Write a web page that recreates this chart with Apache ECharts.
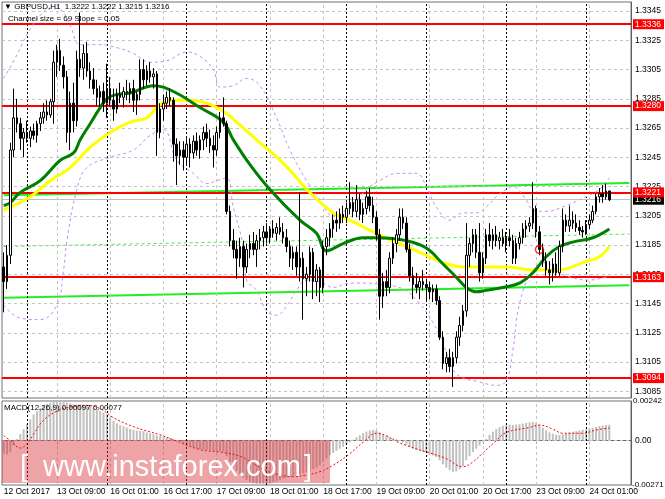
<!DOCTYPE html>
<html><head><meta charset="utf-8">
<script src="https://cdn.jsdelivr.net/npm/echarts@6/dist/echarts.min.js"></script>
<style>html,body{margin:0;padding:0;background:#fff}#c{width:665px;height:499px}</style>
</head><body><div id="c"></div>
<script>
// ---------- data ----------
// candles: [open, close, low, high], H1 bars from 12 Oct 2017 17:00
const candles = [
[1.3170,1.3160,1.3139,1.3180],[1.3160,1.3178,1.3155,1.3185],[1.3178,1.3250,1.3172,1.3255],[1.3250,1.3272,1.3245,1.3292],
[1.3272,1.3268,1.3262,1.3285],[1.3268,1.3258,1.3250,1.3272],[1.3258,1.3262,1.3245,1.3265],[1.3262,1.3258,1.3255,1.3270],
[1.3258,1.3263,1.3252,1.3266],[1.3263,1.3260,1.3257,1.3268],[1.3260,1.3268,1.3255,1.3270],[1.3268,1.3272,1.3263,1.3276],
[1.3272,1.3276,1.3268,1.3282],[1.3276,1.3274,1.3270,1.3284],[1.3274,1.3283,1.3272,1.3285],[1.3283,1.3310,1.3268,1.3318],
[1.3310,1.3318,1.3300,1.3322],[1.3318,1.3308,1.3304,1.3326],[1.3308,1.3300,1.3292,1.3314],[1.3300,1.3262,1.3255,1.3304],
[1.3262,1.3282,1.3250,1.3290],[1.3282,1.3270,1.3262,1.3296],[1.3270,1.3312,1.3266,1.3318],[1.3312,1.3306,1.3300,1.3344],
[1.3306,1.3316,1.3298,1.3322],[1.3316,1.3304,1.3300,1.3324],[1.3304,1.3298,1.3292,1.3310],[1.3298,1.3292,1.3288,1.3306],
[1.3292,1.3286,1.3280,1.3298],[1.3286,1.3290,1.3280,1.3294],[1.3290,1.3282,1.3276,1.3296],[1.3282,1.3292,1.3272,1.3309],
[1.3292,1.3284,1.3280,1.3300],[1.3284,1.3278,1.3270,1.3292],[1.3278,1.3288,1.3275,1.3292],[1.3288,1.3286,1.3282,1.3296],
[1.3286,1.3290,1.3279,1.3293],[1.3290,1.3289,1.3284,1.3298],[1.3289,1.3292,1.3282,1.3296],[1.3292,1.3284,1.3276,1.3298],
[1.3284,1.3288,1.3274,1.3290],[1.3288,1.3305,1.3284,1.3312],[1.3305,1.3298,1.3292,1.3312],[1.3298,1.3304,1.3294,1.3308],
[1.3304,1.3300,1.3296,1.3310],[1.3300,1.3302,1.3292,1.3306],[1.3302,1.3262,1.3246,1.3304],[1.3262,1.3278,1.3258,1.3282],
[1.3278,1.3282,1.3270,1.3288],[1.3282,1.3286,1.3278,1.3290],[1.3286,1.3284,1.3280,1.3292],[1.3284,1.3254,1.3242,1.3286],
[1.3254,1.3246,1.3226,1.3258],[1.3246,1.3250,1.3240,1.3256],[1.3250,1.3245,1.3236,1.3256],[1.3245,1.3254,1.3240,1.3258],
[1.3254,1.3248,1.3238,1.3258],[1.3248,1.3256,1.3244,1.3260],[1.3256,1.3250,1.3246,1.3262],[1.3250,1.3257,1.3244,1.3260],
[1.3257,1.3262,1.3250,1.3266],[1.3262,1.3258,1.3252,1.3268],[1.3258,1.3253,1.3248,1.3264],[1.3253,1.3250,1.3238,1.3260],
[1.3250,1.3262,1.3246,1.3266],[1.3262,1.3272,1.3258,1.3276],[1.3272,1.3268,1.3266,1.3286],[1.3268,1.3208,1.3206,1.3270],
[1.3208,1.3188,1.3184,1.3212],[1.3188,1.3182,1.3176,1.3196],[1.3182,1.3176,1.3162,1.3188],[1.3176,1.3184,1.3170,1.3190],
[1.3184,1.3170,1.3156,1.3188],[1.3170,1.3182,1.3166,1.3186],[1.3182,1.3186,1.3176,1.3192],[1.3186,1.3182,1.3178,1.3194],
[1.3182,1.3188,1.3170,1.3192],[1.3188,1.3190,1.3182,1.3196],[1.3190,1.3194,1.3184,1.3198],[1.3194,1.3190,1.3186,1.3200],
[1.3190,1.3196,1.3186,1.3198],[1.3196,1.3193,1.3190,1.3202],[1.3193,1.3197,1.3188,1.3200],[1.3197,1.3194,1.3192,1.3204],
[1.3194,1.3190,1.3186,1.3200],[1.3190,1.3184,1.3180,1.3196],[1.3184,1.3176,1.3170,1.3188],[1.3176,1.3180,1.3168,1.3184],
[1.3180,1.3170,1.3164,1.3184],[1.3170,1.3176,1.3160,1.3221],[1.3176,1.3162,1.3134,1.3180],[1.3162,1.3165,1.3150,1.3170],
[1.3165,1.3180,1.3160,1.3184],[1.3180,1.3160,1.3148,1.3183],[1.3160,1.3168,1.3150,1.3172],[1.3168,1.3156,1.3146,1.3170],
[1.3156,1.3184,1.3152,1.3188],[1.3184,1.3190,1.3178,1.3196],[1.3190,1.3196,1.3184,1.3200],[1.3196,1.3202,1.3190,1.3206],
[1.3202,1.3200,1.3194,1.3208],[1.3200,1.3206,1.3196,1.3210],[1.3206,1.3204,1.3200,1.3212],[1.3204,1.3210,1.3200,1.3214],
[1.3210,1.3214,1.3206,1.3228],[1.3214,1.3208,1.3204,1.3218],[1.3208,1.3216,1.3204,1.3226],[1.3216,1.3206,1.3202,1.3220],
[1.3206,1.3210,1.3200,1.3214],[1.3210,1.3218,1.3206,1.3222],[1.3218,1.3212,1.3208,1.3224],[1.3212,1.3204,1.3200,1.3218],
[1.3204,1.3192,1.3188,1.3208],[1.3192,1.3150,1.3134,1.3196],[1.3150,1.3160,1.3142,1.3166],[1.3160,1.3156,1.3150,1.3168],
[1.3156,1.3176,1.3152,1.3180],[1.3176,1.3186,1.3172,1.3190],[1.3186,1.3192,1.3180,1.3196],[1.3192,1.3204,1.3188,1.3210],
[1.3204,1.3200,1.3196,1.3210],[1.3200,1.3182,1.3180,1.3204],[1.3182,1.3164,1.3160,1.3186],[1.3164,1.3158,1.3148,1.3170],
[1.3158,1.3156,1.3152,1.3166],[1.3156,1.3160,1.3148,1.3163],[1.3160,1.3158,1.3154,1.3168],[1.3158,1.3156,1.3146,1.3162],
[1.3156,1.3153,1.3148,1.3160],[1.3153,1.3155,1.3146,1.3158],[1.3155,1.3147,1.3144,1.3158],[1.3147,1.3122,1.3120,1.3150],
[1.3122,1.3104,1.3100,1.3126],[1.3104,1.3108,1.3098,1.3112],[1.3108,1.3102,1.3098,1.3114],[1.3102,1.3108,1.3088,1.3112],
[1.3108,1.3122,1.3104,1.3126],[1.3122,1.3130,1.3116,1.3136],[1.3130,1.3140,1.3126,1.3144],[1.3140,1.3178,1.3136,1.3200],
[1.3178,1.3186,1.3170,1.3190],[1.3186,1.3192,1.3180,1.3196],[1.3192,1.3180,1.3176,1.3196],[1.3180,1.3166,1.3160,1.3200],
[1.3166,1.3176,1.3162,1.3180],[1.3176,1.3192,1.3172,1.3196],[1.3192,1.3188,1.3184,1.3200],[1.3188,1.3192,1.3182,1.3196],
[1.3192,1.3188,1.3184,1.3198],[1.3188,1.3190,1.3182,1.3194],[1.3190,1.3186,1.3184,1.3196],[1.3186,1.3190,1.3180,1.3194],
[1.3190,1.3188,1.3184,1.3196],[1.3188,1.3176,1.3172,1.3192],[1.3176,1.3186,1.3172,1.3190],[1.3186,1.3190,1.3182,1.3194],
[1.3190,1.3196,1.3186,1.3200],[1.3196,1.3198,1.3190,1.3202],[1.3198,1.3200,1.3194,1.3204],[1.3200,1.3210,1.3196,1.3228],
[1.3210,1.3194,1.3190,1.3212],[1.3194,1.3182,1.3178,1.3198],[1.3182,1.3174,1.3170,1.3186],[1.3174,1.3168,1.3164,1.3180],
[1.3168,1.3166,1.3158,1.3174],[1.3166,1.3172,1.3160,1.3176],[1.3172,1.3166,1.3164,1.3180],[1.3166,1.3184,1.3164,1.3188],
[1.3184,1.3202,1.3180,1.3210],[1.3202,1.3198,1.3194,1.3206],[1.3198,1.3202,1.3194,1.3212],[1.3202,1.3200,1.3196,1.3208],
[1.3200,1.3197,1.3194,1.3206],[1.3197,1.3195,1.3192,1.3202],[1.3195,1.3194,1.3190,1.3198],[1.3194,1.3199,1.3192,1.3202],
[1.3199,1.3202,1.3196,1.3206],[1.3202,1.3208,1.3200,1.3212],[1.3208,1.3218,1.3206,1.3220],[1.3218,1.3220,1.3214,1.3224],
[1.3220,1.3218,1.3214,1.3226],[1.3218,1.3222,1.3216,1.3227],[1.3222,1.3216,1.3215,1.3222]
];
const barSlots = 189; // chart leaves empty room after the last bar
// moving averages & bands: [bar index, price]
const maGreen = [[0,1.3212],[2,1.3214],[5,1.3221],[11,1.3229],[17,1.3243],[21,1.3248],[23,1.3257],[26,1.3268],[29,1.3279],[31,1.3285],[34,1.3288],[38,1.3289],[45,1.3294],[51,1.3290],[59,1.3279],[66,1.3269],[69,1.3257],[74,1.3240],[80,1.3223],[89,1.3202],[94,1.3193],[97,1.3181],[102,1.3186],[108,1.3190],[113,1.3190],[121,1.3188],[127,1.3183],[132,1.3172],[136,1.3163],[139,1.3156],[142,1.3153],[145,1.3154],[150,1.3156],[155,1.3159],[159,1.3166],[163,1.3177],[167,1.3184],[171,1.3187],[177,1.3190],[182,1.3196]];
const maYellow = [[0,1.3209],[2,1.3211],[8,1.3218],[14,1.3229],[20,1.3238],[26,1.3252],[32,1.3262],[38,1.3269],[43,1.3272],[46,1.3279],[50,1.3284],[55,1.3284],[61,1.3282],[67,1.3275],[70,1.3269],[76,1.3257],[84,1.3241],[92,1.3221],[99,1.3207],[104,1.3202],[112,1.3193],[120,1.3185],[127,1.3178],[132,1.3173],[138,1.3170],[142,1.3170],[151,1.3170],[159,1.3168],[167,1.3168],[174,1.3173],[179,1.3177],[182,1.3184]];
const bandUpper = [[0,1.3299],[4,1.3315],[7,1.3329],[11,1.3342],[14,1.3347],[17,1.3346],[20,1.3335],[23,1.3322],[29,1.3322],[34,1.3320],[39,1.3316],[44,1.3310],[49,1.3311],[55,1.3317],[59,1.3314],[63,1.3305],[65,1.3293],[69,1.3294],[73,1.3299],[77,1.3294],[82,1.3272],[86,1.3250],[91,1.3229],[95,1.3216],[99,1.3205],[104,1.3211],[109,1.3223],[113,1.3229],[118,1.3234],[124,1.3234],[127,1.3225],[130,1.3211],[134,1.3202],[138,1.3207],[142,1.3207],[145,1.3211],[148,1.3218],[151,1.3223],[153,1.3225],[157,1.3216],[159,1.3209],[163,1.3208],[169,1.3212],[174,1.3217],[179,1.3223],[182,1.3231]];
const bandLower = [[0,1.3144],[5,1.3135],[11,1.3134],[16,1.3144],[18,1.3168],[19,1.3188],[22,1.3223],[25,1.3238],[32,1.3245],[39,1.3250],[44,1.3260],[48,1.3264],[52,1.3243],[57,1.3234],[61,1.3227],[64,1.3229],[67,1.3231],[69,1.3211],[72,1.3184],[73,1.3161],[76,1.3154],[79,1.3140],[82,1.3137],[85,1.3143],[88,1.3154],[91,1.3161],[95,1.3160],[99,1.3156],[104,1.3159],[109,1.3159],[113,1.3158],[120,1.3155],[125,1.3145],[129,1.3132],[132,1.3118],[135,1.3100],[138,1.3094],[142,1.3092],[148,1.3089],[151,1.3092],[153,1.3113],[155,1.3145],[159,1.3168],[163,1.3173],[167,1.3166],[172,1.3162],[176,1.3161],[182,1.3164]];
// regression channel (Channel size = 69, Slope = 0.05)
const channelUpper = [[0,1.32190],[188,1.32275]];
const channelMiddle = [[0,1.31840],[188,1.31925]];
const channelLower = [[0,1.31490],[188,1.31575]];
const levels = [1.3336,1.3280,1.3221,1.3163,1.3094];
const bidPrice = 1.3216;
const tradeMark = [[161,1.3182]];
const priceTicks = [1.3085,1.3105,1.3125,1.3145,1.3165,1.3185,1.3205,1.3225,1.3245,1.3265,1.3285,1.3305,1.3325,1.3345];
const timeTickIndex = [0,16,32,48,64,80,96,112,128,144,160,176];
const timeTickLabels = ['12 Oct 2017','13 Oct 09:00','16 Oct 01:00','16 Oct 17:00','17 Oct 09:00','18 Oct 01:00','18 Oct 17:00','19 Oct 09:00','20 Oct 01:00','20 Oct 17:00','23 Oct 09:00','24 Oct 01:00'];
const daySeparators = [7,31,55,79,103,127,151,175];
// MACD(12,26,9)
const macdMain = [
-0.00080,-0.00085,-0.00070,-0.00030,0.00010,0.00040,0.00070,0.00100,0.00130,0.00160,0.00180,0.00200,0.00215,0.00225,0.00232,0.00238,
0.00242,0.00242,0.00240,0.00232,0.00228,0.00222,0.00220,0.00222,0.00220,0.00215,0.00208,0.00200,0.00190,0.00180,0.00170,0.00160,
0.00145,0.00120,0.00105,0.00095,0.00088,0.00080,0.00072,0.00066,0.00062,0.00060,0.00058,0.00050,0.00045,0.00040,0.00032,0.00028,
0.00025,0.00020,0.00016,0.00010,0.00005,-0.00005,-0.00015,-0.00025,-0.00035,-0.00042,-0.00048,-0.00052,-0.00055,-0.00058,-0.00060,-0.00062,
-0.00064,-0.00066,-0.00068,-0.00095,-0.00130,-0.00160,-0.00185,-0.00205,-0.00225,-0.00240,-0.00252,-0.00260,-0.00266,-0.00270,-0.00271,-0.00268,
-0.00262,-0.00255,-0.00248,-0.00240,-0.00232,-0.00225,-0.00220,-0.00215,-0.00210,-0.00205,-0.00200,-0.00195,-0.00185,-0.00175,-0.00165,-0.00150,
-0.00130,-0.00110,-0.00090,-0.00075,-0.00062,-0.00050,-0.00038,-0.00025,-0.00010,0.00005,0.00020,0.00032,0.00045,0.00055,0.00062,0.00066,
0.00064,0.00050,0.00038,0.00028,0.00020,0.00014,0.00008,0.00002,-0.00010,-0.00025,-0.00040,-0.00050,-0.00058,-0.00064,-0.00070,-0.00076,
-0.00082,-0.00090,-0.00100,-0.00120,-0.00145,-0.00165,-0.00180,-0.00190,-0.00188,-0.00175,-0.00155,-0.00120,-0.00095,-0.00070,-0.00050,-0.00030,
-0.00010,0.00010,0.00035,0.00055,0.00070,0.00082,0.00090,0.00095,0.00098,0.00096,0.00098,0.00100,0.00104,0.00108,0.00112,0.00115,
0.00110,0.00095,0.00078,0.00062,0.00050,0.00042,0.00036,0.00035,0.00040,0.00045,0.00050,0.00054,0.00058,0.00062,0.00066,0.00070,
0.00074,0.00078,0.00084,0.00088,0.00092,0.00095,0.00097
];
const macdSignal = [[0,0.00030],[2,0.00000],[5,-0.00045],[7,-0.00020],[9,0.00040],[12,0.00125],[16,0.00180],[20,0.00205],[25,0.00215],[29,0.00195],[33,0.00140],[39,0.00085],[47,0.00035],[51,0.00005],[59,-0.00055],[65,-0.00070],[71,-0.00095],[75,-0.00140],[79,-0.00185],[83,-0.00210],[87,-0.00220],[91,-0.00210],[95,-0.00190],[99,-0.00150],[104,-0.00080],[108,-0.00010],[112,0.00045],[115,0.00030],[118,-0.00005],[124,-0.00050],[128,-0.00075],[133,-0.00110],[138,-0.00160],[141,-0.00130],[144,-0.00075],[148,0.00000],[151,0.00050],[158,0.00080],[161,0.00095],[165,0.00070],[168,0.00045],[174,0.00045],[178,0.00065],[182,0.00077]];
const macdMax = 0.00242, macdMin = -0.00271;

// ---------- chart ----------
const FONT = 'Liberation Sans';
const cats = Array.from({length: barSlots}, (_, i) => String(i));
const tickSet = new Set(timeTickIndex);
const labelOf = {}; timeTickIndex.forEach((t, k) => labelOf[t] = timeTickLabels[k]);

const vGrid = timeTickIndex.filter(i => i > 0).map(i => ({xAxis: i, label: {show: false}, lineStyle: {type: [3, 3], color: '#c4c4c4', width: 1}}));
const vDays = daySeparators.map(i => ({xAxis: i, label: {show: false}, lineStyle: {type: [2, 2], color: '#000', width: 1}}));
const hidden = {color: 'rgba(0,0,0,0)', width: 1, type: 'solid'};

const chart = echarts.init(document.getElementById('c'), null, {renderer: 'canvas'});
chart.setOption({
  animation: false,
  backgroundColor: '#fff',
  textStyle: {fontFamily: FONT},
  grid: [
    {left: 2, right: 34, top: 2, height: 396, show: true, borderColor: '#707070', borderWidth: 1},
    {left: 2, right: 34, top: 401, height: 84, show: true, borderColor: '#707070', borderWidth: 1}
  ],
  xAxis: [
    {type: 'category', gridIndex: 0, data: cats, boundaryGap: true, axisLine: {show: false}, axisTick: {show: false}, axisLabel: {show: false}, splitLine: {show: false}},
    {type: 'category', gridIndex: 1, data: cats, boundaryGap: true,
     axisLine: {show: true, lineStyle: {color: '#606060'}},
     axisTick: {show: true, alignWithLabel: true, interval: (i) => tickSet.has(i), length: 3, lineStyle: {color: '#606060'}},
     axisLabel: {interval: (i) => tickSet.has(i), formatter: (v) => labelOf[Number(v)] || '', align: 'left', fontSize: 8.5, color: '#000', margin: 2, fontFamily: FONT},
     splitLine: {show: false}}
  ],
  yAxis: [
    {type: 'value', gridIndex: 0, position: 'right', min: 1.30804, max: 1.33512, axisLine: {show: true, lineStyle: {color: '#606060'}}, axisTick: {show: false}, axisLabel: {show: false}, splitLine: {show: false}},
    {type: 'value', gridIndex: 1, position: 'right', min: macdMin, max: macdMax, axisLine: {show: true, lineStyle: {color: '#606060'}}, axisTick: {show: false}, axisLabel: {show: false}, splitLine: {show: false}}
  ],
  series: [
    { // price grid lines + tick labels + vertical lines
      type: 'line', xAxisIndex: 0, yAxisIndex: 0, data: [], z: 1, silent: true,
      markLine: {silent: true, symbol: ['none', 'none'], precision: 5, animation: false,
        lineStyle: {type: [3, 3], color: '#c4c4c4', width: 1},
        label: {position: 'end', distance: 4, formatter: '{b}', color: '#000', fontSize: 8.5, fontFamily: FONT},
        data: priceTicks.map(v => ({yAxis: v, name: v.toFixed(4)})).concat(vGrid, vDays)}
    },
    { // bid line
      type: 'line', xAxisIndex: 0, yAxisIndex: 0, data: [], z: 2, silent: true,
      markLine: {silent: true, symbol: ['none', 'none'], precision: 5, animation: false,
        lineStyle: {type: 'solid', color: '#c0c0c0', width: 1},
        label: {position: 'end', distance: 2, formatter: '{b}', color: '#fff', backgroundColor: '#000', padding: [1, 3, 0, 2], fontSize: 8.5, fontFamily: FONT},
        data: [{yAxis: bidPrice, name: bidPrice.toFixed(4)}]}
    },
    { // horizontal levels
      type: 'line', xAxisIndex: 0, yAxisIndex: 0, data: [], z: 3, silent: true,
      markLine: {silent: true, symbol: ['none', 'none'], precision: 5, animation: false,
        lineStyle: {type: 'solid', color: '#ff0000', width: 2},
        label: {position: 'end', distance: 2, formatter: '{b}', color: '#fff', backgroundColor: '#ff0000', padding: [1, 3, 0, 2], fontSize: 8.5, fontFamily: FONT},
        data: levels.map(v => ({yAxis: v, name: v.toFixed(4)}))}
    },
    {type: 'line', name: 'chUp', xAxisIndex: 0, yAxisIndex: 0, data: channelUpper, symbol: 'none', z: 4, lineStyle: {color: '#22ee22', width: 2}},
    {type: 'line', name: 'chMid', xAxisIndex: 0, yAxisIndex: 0, data: channelMiddle, symbol: 'none', z: 4, lineStyle: {color: '#44ee44', width: 1, type: [3, 3]}},
    {type: 'line', name: 'chLow', xAxisIndex: 0, yAxisIndex: 0, data: channelLower, symbol: 'none', z: 4, lineStyle: {color: '#22ee22', width: 2}},
    {type: 'line', name: 'bbUp', xAxisIndex: 0, yAxisIndex: 0, data: bandUpper, symbol: 'none', smooth: 0.4, z: 5, lineStyle: {color: '#c98cf0', width: 1, type: [3, 3]}},
    {type: 'line', name: 'bbLow', xAxisIndex: 0, yAxisIndex: 0, data: bandLower, symbol: 'none', smooth: 0.4, z: 5, lineStyle: {color: '#c98cf0', width: 1, type: [3, 3]}},
    {type: 'line', name: 'maY', xAxisIndex: 0, yAxisIndex: 0, data: maYellow, symbol: 'none', smooth: 0.4, z: 6, lineStyle: {color: '#ffff00', width: 3}},
    {type: 'line', name: 'maG', xAxisIndex: 0, yAxisIndex: 0, data: maGreen, symbol: 'none', smooth: 0.4, z: 7, lineStyle: {color: '#008000', width: 3}},
    {type: 'candlestick', xAxisIndex: 0, yAxisIndex: 0, data: candles, barWidth: 2, z: 8,
     itemStyle: {color: '#ffffff', color0: '#000000', borderColor: '#000000', borderColor0: '#000000', borderWidth: 1}},
    {type: 'scatter', xAxisIndex: 0, yAxisIndex: 0, data: tradeMark, symbol: 'circle', symbolSize: 8, z: 9,
     itemStyle: {color: 'rgba(255,255,255,0)', borderColor: '#ff0000', borderWidth: 1.5}},
    { // MACD panel lines and labels
      type: 'line', xAxisIndex: 1, yAxisIndex: 1, data: [], z: 1, silent: true,
      markLine: {silent: true, symbol: ['none', 'none'], precision: 6, animation: false,
        lineStyle: {type: [3, 3], color: '#c4c4c4', width: 1},
        label: {position: 'end', distance: 4, formatter: '{b}', color: '#000', fontSize: 8.5, fontFamily: FONT},
        data: [
          {yAxis: 0, name: '0.00'},
          {yAxis: macdMax, name: macdMax.toFixed(5), lineStyle: hidden, label: {distance: 2, fontSize: 8}},
          {yAxis: macdMin, name: macdMin.toFixed(5), lineStyle: hidden, label: {distance: 1, fontSize: 8}}
        ].concat(vGrid, vDays)}
    },
    {type: 'bar', xAxisIndex: 1, yAxisIndex: 1, data: macdMain, barWidth: 2, z: 3, itemStyle: {color: '#c0c0c0'}},
    {type: 'line', xAxisIndex: 1, yAxisIndex: 1, data: macdSignal, symbol: 'none', smooth: 0.4, z: 4, lineStyle: {color: '#ff0000', width: 1, type: [2, 2]}}
  ],
  graphic: [
    {type: 'text', left: 4, top: 3, z: 50, style: {text: '\u25BC GBPUSD,H1  1.3222 1.3222 1.3215 1.3216', font: '8px "Liberation Sans"', fill: '#000'}},
    {type: 'text', left: 8, top: 15, z: 50, style: {text: 'Channel size = 69 Slope = 0.05', font: '8px "Liberation Sans"', fill: '#000'}},
    {type: 'text', left: 4, top: 404, z: 50, style: {text: 'MACD(12,26,9) 0.00097 0.00077', font: '8px "Liberation Sans"', fill: '#000'}},
    {type: 'rect', z: 60, shape: {x: 2, y: 440, width: 328, height: 43}, style: {fill: 'rgba(215,35,45,0.42)'}},
    {type: 'text', z: 61, x: 20, y: 468, style: {text: '[', font: '29px "Liberation Sans"', fill: '#ffffff', textVerticalAlign: 'middle'}},
    {type: 'text', z: 61, x: 43, y: 468, style: {text: 'www.instaforex.com', font: '29px "Liberation Sans"', fill: '#ffffff', textVerticalAlign: 'middle'}},
    {type: 'text', z: 61, x: 304, y: 468, style: {text: ']', font: '29px "Liberation Sans"', fill: '#ffffff', textVerticalAlign: 'middle'}}
  ]
});
</script></body></html>
